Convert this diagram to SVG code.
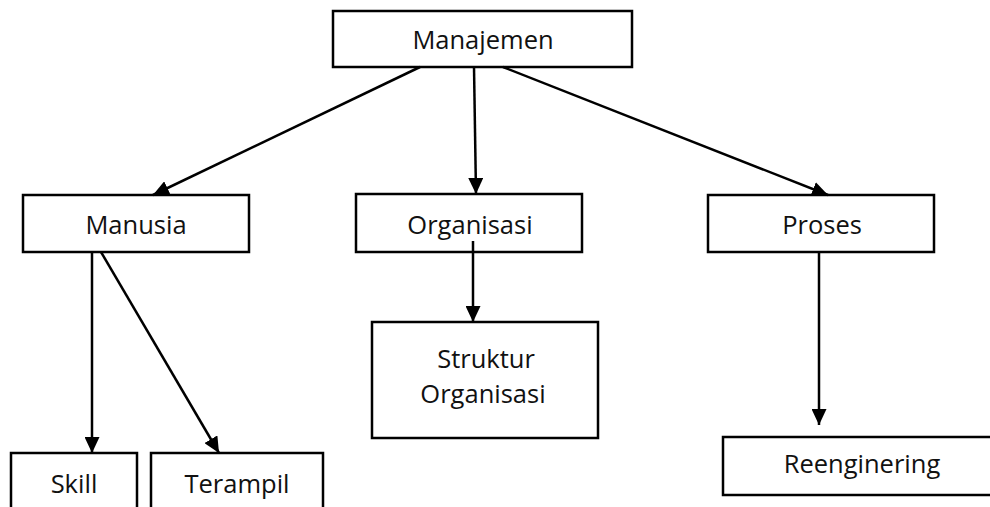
<svg xmlns="http://www.w3.org/2000/svg" width="990" height="507" viewBox="0 0 990 507">
<style>
.box{fill:#fff;stroke:#000;stroke-width:2.5}
.lbl{font-family:"Open Sans","Liberation Sans",sans-serif;font-size:25.5px;fill:#111;text-anchor:middle}
.conn line{stroke:#000;stroke-width:2.5;marker-end:url(#ah)}
</style>
<defs>
<marker id="ah" markerUnits="userSpaceOnUse" markerWidth="17" markerHeight="15" refX="16" refY="7.5" orient="auto">
<path d="M0,0 L16,7.5 L0,15 z" fill="#000"/>
</marker>
</defs>
<rect width="990" height="507" fill="#fff"/>
<g id="manajemen"><rect class="box" x="333" y="11" width="299" height="56"/><text class="lbl" x="483" y="49">Manajemen</text></g>
<g id="manusia"><rect class="box" x="23" y="195" width="226" height="57"/><text class="lbl" x="136" y="234">Manusia</text></g>
<g id="organisasi"><rect class="box" x="356" y="194" width="226" height="58"/><text class="lbl" x="470" y="234">Organisasi</text></g>
<g id="proses"><rect class="box" x="708" y="195" width="226" height="57"/><text class="lbl" x="822" y="234">Proses</text></g>
<g id="struktur"><rect class="box" x="372" y="322" width="226" height="116"/><text class="lbl" x="486" y="368">Struktur</text><text class="lbl" x="483" y="403">Organisasi</text></g>
<g id="skill"><rect class="box" x="11" y="453" width="126" height="60"/><text class="lbl" x="74" y="493">Skill</text></g>
<g id="terampil"><rect class="box" x="151" y="453" width="172" height="60"/><text class="lbl" x="237" y="493">Terampil</text></g>
<g id="reengineering"><rect class="box" x="723" y="437" width="270" height="58"/><text class="lbl" x="862" y="473">Reenginering</text></g>
<g class="conn" id="connectors">
<line x1="420" y1="67" x2="153" y2="195"/>
<line x1="474" y1="67" x2="476" y2="194"/>
<line x1="503" y1="67" x2="828" y2="195"/>
<line x1="92" y1="252" x2="92" y2="453"/>
<line x1="101" y1="252" x2="219" y2="453"/>
<line x1="473" y1="241" x2="473" y2="322"/>
<line x1="819" y1="252" x2="819" y2="425"/>
</g>
</svg>
